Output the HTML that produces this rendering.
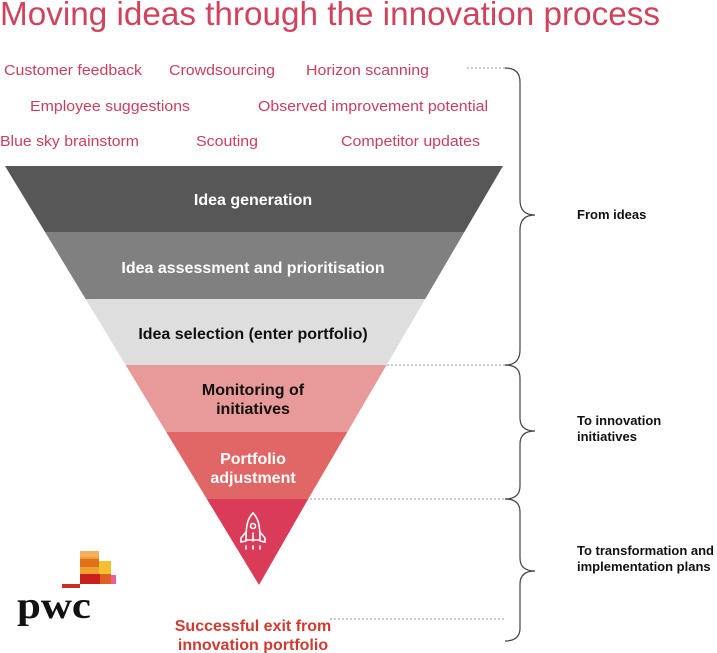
<!DOCTYPE html>
<html><head><meta charset="utf-8"><style>
html,body{margin:0;padding:0;background:#fff}
svg{display:block}
text{font-family:"Liberation Sans",Arial,sans-serif}
</style></head><body>
<svg width="717" height="653" viewBox="0 0 717 653" xmlns="http://www.w3.org/2000/svg">
<text x="0" y="25" font-size="33" fill="#d0435c" textLength="660" lengthAdjust="spacingAndGlyphs">Moving ideas through the innovation process</text>
<g font-size="15" fill="#c9405c">
<text x="4" y="75" textLength="138" lengthAdjust="spacingAndGlyphs">Customer feedback</text>
<text x="169" y="75" textLength="106" lengthAdjust="spacingAndGlyphs">Crowdsourcing</text>
<text x="306" y="75" textLength="123" lengthAdjust="spacingAndGlyphs">Horizon scanning</text>
<text x="30" y="111" textLength="160" lengthAdjust="spacingAndGlyphs">Employee suggestions</text>
<text x="258" y="111" textLength="230" lengthAdjust="spacingAndGlyphs">Observed improvement potential</text>
<text x="0" y="146" textLength="139" lengthAdjust="spacingAndGlyphs">Blue sky brainstorm</text>
<text x="196" y="146" textLength="62" lengthAdjust="spacingAndGlyphs">Scouting</text>
<text x="341" y="146" textLength="139" lengthAdjust="spacingAndGlyphs">Competitor updates</text>
</g>
<polygon points="5,166 503,166 464.4,232 45,232" fill="#575757"/>
<polygon points="45,232 464.4,232 425.2,299 85.6,299" fill="#808080"/>
<polygon points="85.6,299 425.2,299 386.6,365 125.6,365" fill="#dedede"/>
<polygon points="125.6,365 386.6,365 347.4,432 166.2,432" fill="#e89a98"/>
<polygon points="166.2,432 347.4,432 308.2,499 206.8,499" fill="#e06766"/>
<polygon points="206.8,499 308.2,499 259,585" fill="#d93b58"/>
<g font-size="16" font-weight="bold" text-anchor="middle">
<text x="253" y="205" fill="#fff">Idea generation</text>
<text x="253" y="273" fill="#fff">Idea assessment and prioritisation</text>
<text x="253" y="339" fill="#111">Idea selection (enter portfolio)</text>
<text x="253" y="395" fill="#111">Monitoring of</text>
<text x="253" y="414" fill="#111">initiatives</text>
<text x="253" y="464" fill="#fff">Portfolio</text>
<text x="253" y="483" fill="#fff">adjustment</text>
<text x="253" y="631" fill="#d03a30">Successful exit from</text>
<text x="253" y="650" fill="#d03a30">innovation portfolio</text>
</g>
<g stroke="#fff" stroke-width="1.6" fill="none" stroke-linecap="round">
<path d="M253,513 C247,519 246,527 246,540 L260,540 C260,527 259,519 253,513 Z"/>
<circle cx="253" cy="526" r="2.5"/>
<path d="M246,532 L241,538 L241,542 L246,541"/>
<path d="M260,532 L265,538 L265,542 L260,541"/>
<path d="M253,533 L253,541"/>
<path d="M246,546 L246,549 M253,546 L253,549 M260,546 L260,549"/>
</g>
<g stroke="#999" stroke-width="1" stroke-dasharray="2,2" fill="none">
<line x1="467" y1="68" x2="506" y2="68"/>
<line x1="387" y1="365" x2="506" y2="365"/>
<line x1="310" y1="499" x2="506" y2="499"/>
<line x1="330" y1="619" x2="506" y2="619"/>
</g>
<g stroke="#444" stroke-width="1.2" fill="none">
<path d="M505,68 Q520,68 520,82 L520,200 Q520,215 535,215 Q520,215 520,230 L520,350 Q520,365 505,365"/>
<path d="M505,365 Q520,365 520,378 L520,418 Q520,431 535,431 Q520,431 520,444 L520,486 Q520,499 505,499"/>
<path d="M505,499 Q520,499 520,512 L520,558 Q520,571 535,571 Q520,571 520,584 L520,628 Q520,641 505,641"/>
</g>
<g font-size="13" font-weight="bold" fill="#111">
<text x="577" y="219">From ideas</text>
<text x="577" y="425">To innovation</text>
<text x="577" y="441">initiatives</text>
<text x="577" y="555">To transformation and</text>
<text x="577" y="571">implementation plans</text>
</g>
<rect x="80" y="551" width="19" height="23" fill="#f0a030"/>
<rect x="80" y="551" width="19" height="6" fill="#f4b060"/>
<rect x="80" y="559" width="19" height="8" fill="#e0701a"/>
<rect x="99" y="561" width="12" height="13" fill="#f5c030"/>
<rect x="80" y="574" width="20" height="10" fill="#c8201a"/>
<rect x="100" y="574" width="11" height="10" fill="#e06020"/>
<rect x="111" y="575" width="5" height="9" fill="#e8609a"/>
<rect x="62" y="584" width="18" height="4" fill="#c83020"/>
<text x="17" y="618" style="font-family:'Liberation Serif',serif" font-size="38" font-weight="bold" fill="#111" textLength="74" lengthAdjust="spacingAndGlyphs">pwc</text>
</svg>
</body></html>
